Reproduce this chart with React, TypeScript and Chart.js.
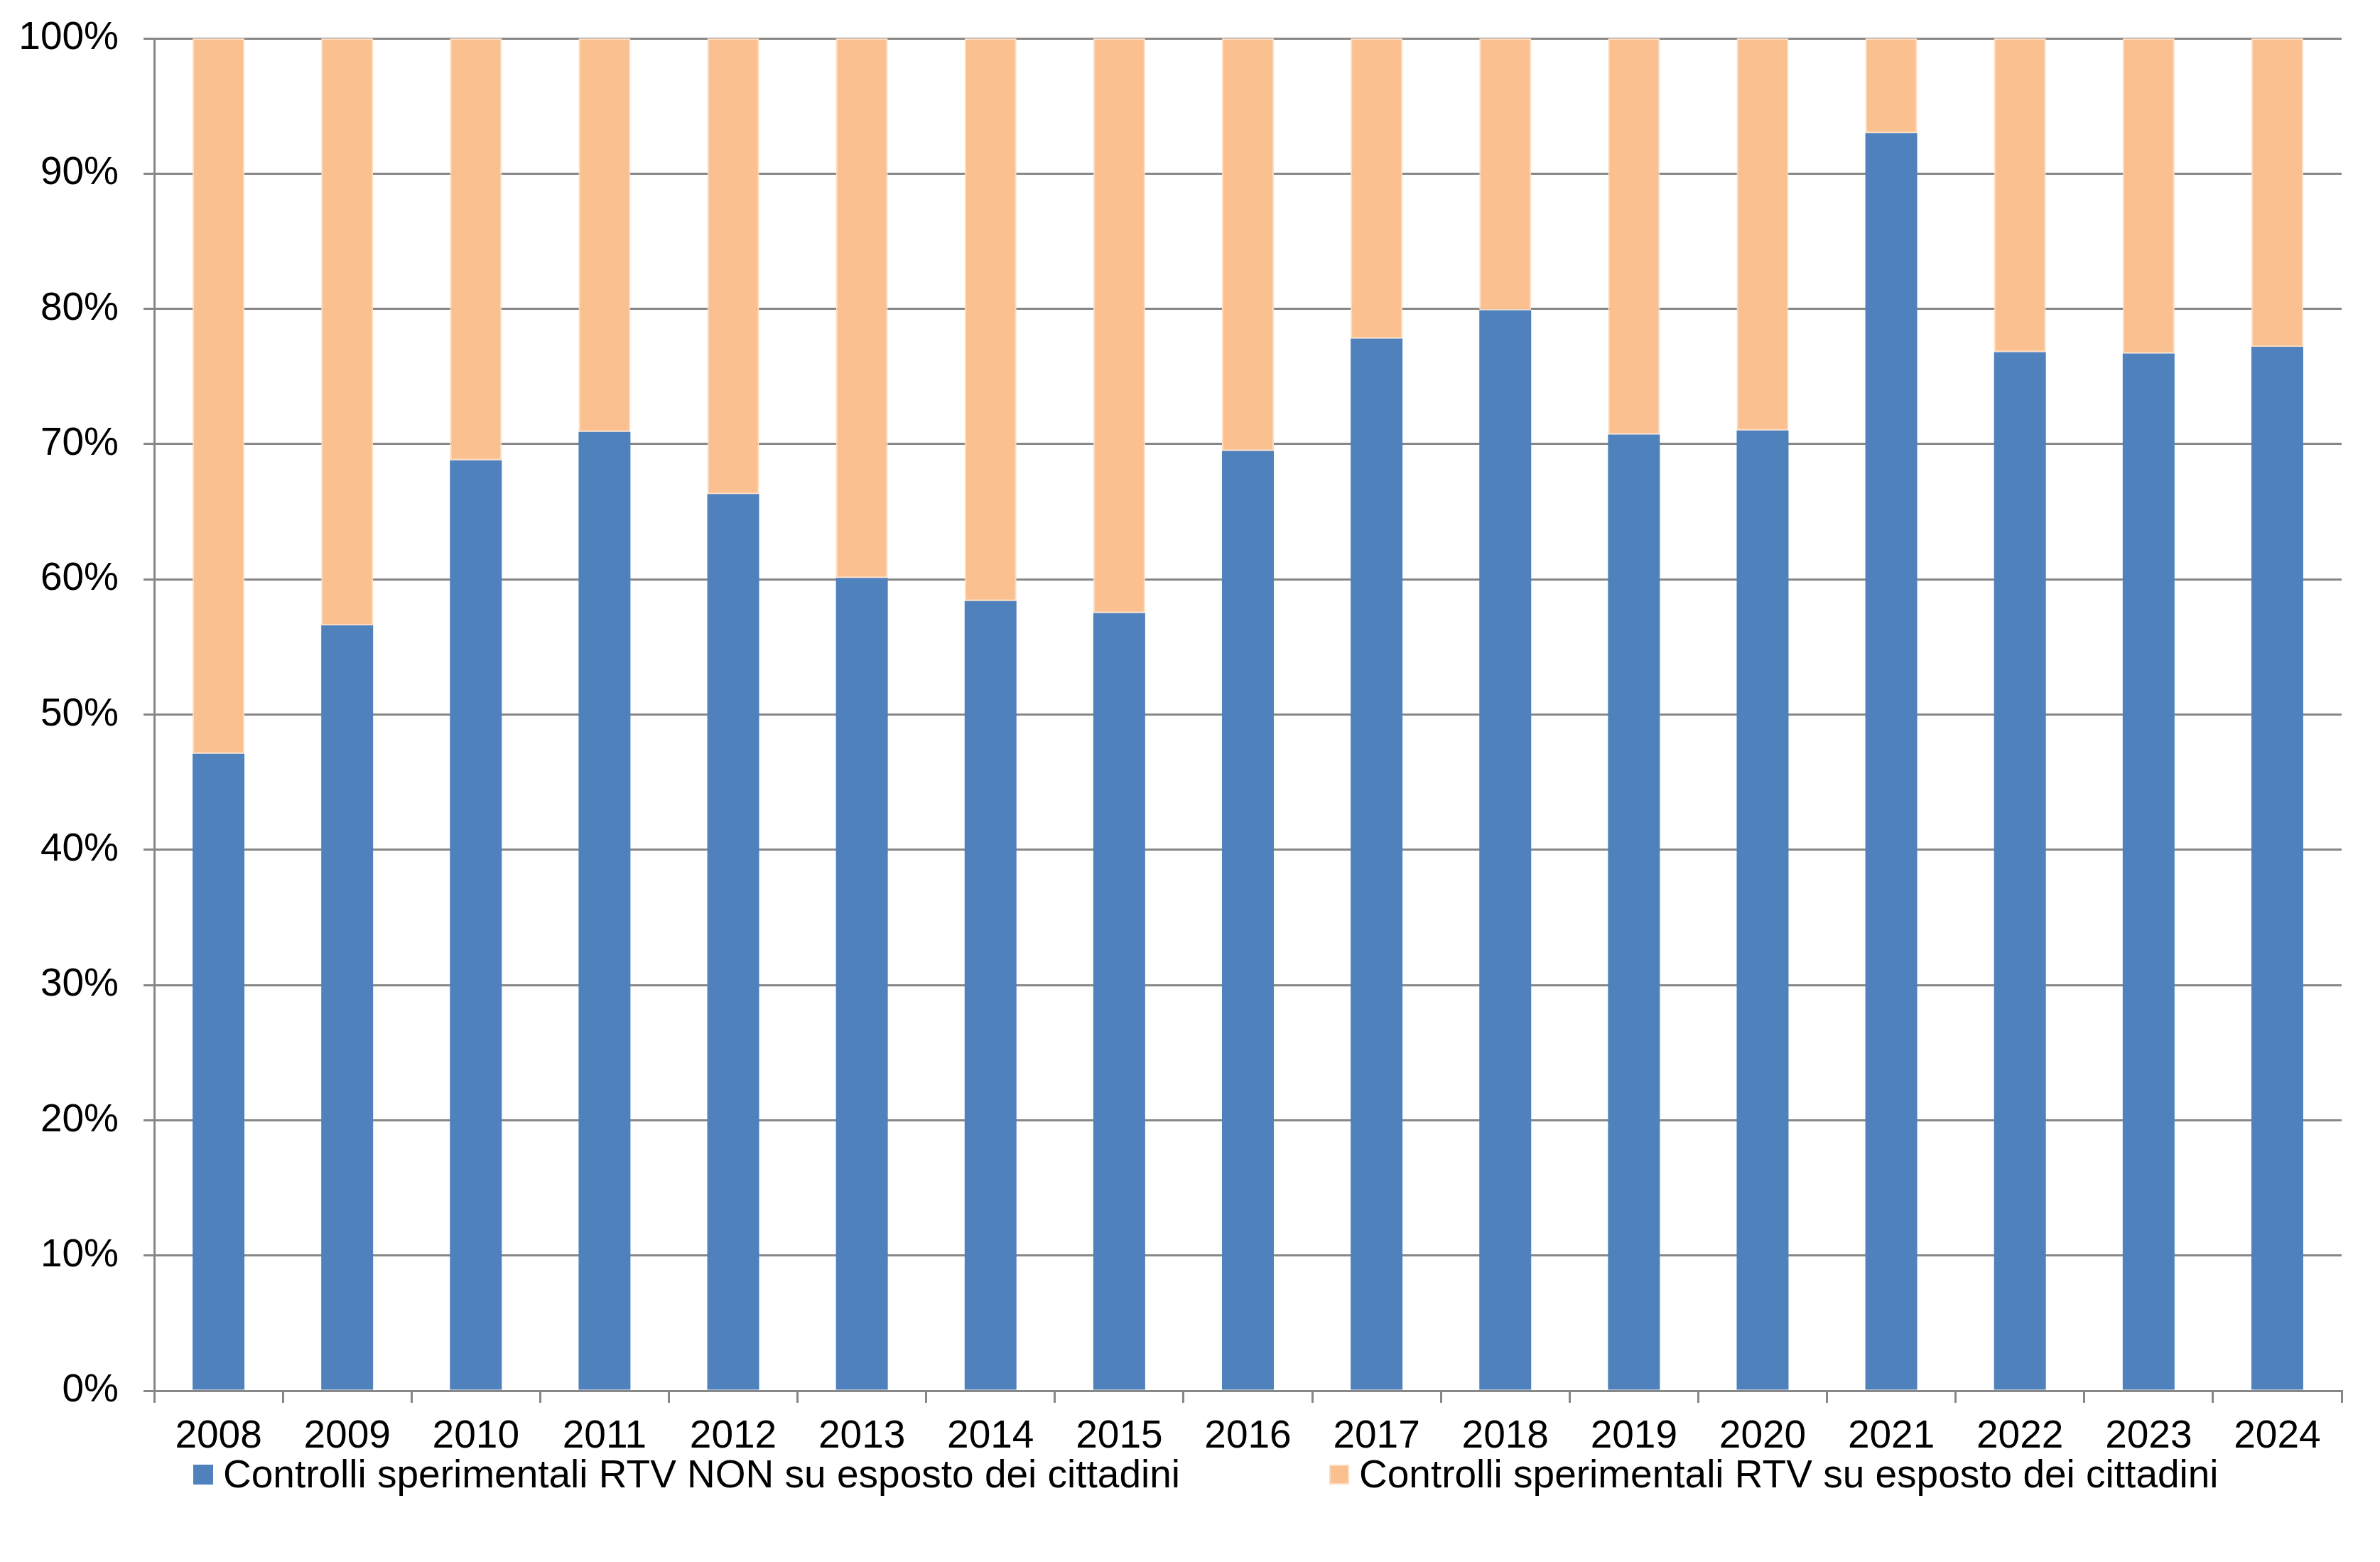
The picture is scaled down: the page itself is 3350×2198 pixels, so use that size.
import React, { useEffect, useRef } from "react";
import { Chart, registerables } from "chart.js";

Chart.register(...registerables);

const years = ["2008", "2009", "2010", "2011", "2012", "2013", "2014", "2015", "2016", "2017", "2018", "2019", "2020", "2021", "2022", "2023", "2024"];
const nonEspostoValues = [47.1, 56.6, 68.8, 70.9, 66.3, 60.1, 58.4, 57.5, 69.5, 77.8, 79.9, 70.7, 71.0, 93.0, 76.8, 76.7, 77.2];
const espostoValues = [52.9, 43.4, 31.2, 29.1, 33.7, 39.9, 41.6, 42.5, 30.5, 22.2, 20.1, 29.3, 29.0, 7.0, 23.2, 23.3, 22.8];
const seriesLabels = [
  "Controlli sperimentali RTV NON su esposto dei cittadini",
  "Controlli sperimentali RTV su esposto dei cittadini",
];
const yTickValues = [0, 10, 20, 30, 40, 50, 60, 70, 80, 90, 100];

const FONT = "'Liberation Sans', Arial, sans-serif";
const FONT_SIZE = 55;
const BLUE = "#4F81BD";
const ORANGE = "#FAC090";
const ORANGE_BORDER = "#FDDCC0";
const GRID = "#878787";

const customLegend = {
  id: "customLegend",
  afterDraw(chart: any) {
    const ctx = chart.ctx;
    const area = chart.chartArea;
    ctx.save();
    ctx.font = `${FONT_SIZE}px ${FONT}`;
    ctx.textBaseline = "alphabetic";
    ctx.textAlign = "left";
    let x = area.left + 55;
    const baseline = 2093;
    const boxTop = 2061;
    const box = 28;
    chart.data.datasets.forEach((ds: any) => {
      ctx.fillStyle = ds.backgroundColor;
      ctx.fillRect(x, boxTop, box, box);
      if (ds.borderWidth) {
        ctx.strokeStyle = ds.borderColor;
        ctx.lineWidth = 2;
        ctx.strokeRect(x + 1, boxTop + 1, box - 2, box - 2);
      }
      x += box + 14;
      ctx.fillStyle = "#000";
      ctx.fillText(ds.label, x, baseline);
      x += ctx.measureText(ds.label).width + 210;
    });
    ctx.restore();
  },
};

export default function App() {
  const ref = useRef<HTMLCanvasElement | null>(null);

  useEffect(() => {
    if (!ref.current) return;
    const chart = new Chart(ref.current, {
      type: "bar",
      data: {
        labels: years,
        datasets: [
          {
            label: seriesLabels[0],
            data: nonEspostoValues,
            backgroundColor: BLUE,
            borderWidth: 0,
            barPercentage: 0.403,
            categoryPercentage: 1,
          },
          {
            label: seriesLabels[1],
            data: espostoValues,
            backgroundColor: ORANGE,
            borderColor: ORANGE_BORDER,
            borderWidth: 2,
            borderSkipped: false,
            barPercentage: 0.403,
            categoryPercentage: 1,
          },
        ],
      },
      options: {
        responsive: false,
        animation: false,
        devicePixelRatio: 1,
        layout: { padding: { left: 0, top: 54, right: 54, bottom: 0 } },
        plugins: {
          legend: { display: false },
          tooltip: { enabled: false },
        },
        scales: {
          x: {
            stacked: true,
            offset: true,
            afterFit: (scale: any) => {
              scale.height = 241;
            },
            grid: {
              offset: true,
              drawOnChartArea: false,
              drawTicks: true,
              tickLength: 17,
              color: GRID,
              lineWidth: 3,
            },
            border: { display: true, color: GRID, width: 3 },
            ticks: {
              color: "#000",
              font: { family: FONT, size: FONT_SIZE },
              padding: 15,
              maxRotation: 0,
              autoSkip: false,
            },
          },
          y: {
            stacked: true,
            min: 0,
            max: 100,
            afterFit: (scale: any) => {
              scale.width = 217;
              scale.paddingTop = 20;
              scale.paddingBottom = 20;
            },
            afterBuildTicks: (scale: any) => {
              scale.ticks = yTickValues.map((v) => ({ value: v }));
            },
            grid: {
              color: GRID,
              lineWidth: 3,
              drawTicks: true,
              tickLength: 15,
            },
            border: { display: true, color: GRID, width: 3 },
            ticks: {
              color: "#000",
              font: { family: FONT, size: FONT_SIZE },
              padding: 35,
              callback: (v: any) => `${v}%`,
            },
          },
        },
      },
      plugins: [customLegend],
    });
    return () => chart.destroy();
  }, []);

  return (
    <div style={{ position: "absolute", left: 0, top: 0, width: 3350, height: 2198, background: "#fff" }}>
      <canvas ref={ref} width={3350} height={2198} style={{ width: 3350, height: 2198, display: "block" }} />
    </div>
  );
}
